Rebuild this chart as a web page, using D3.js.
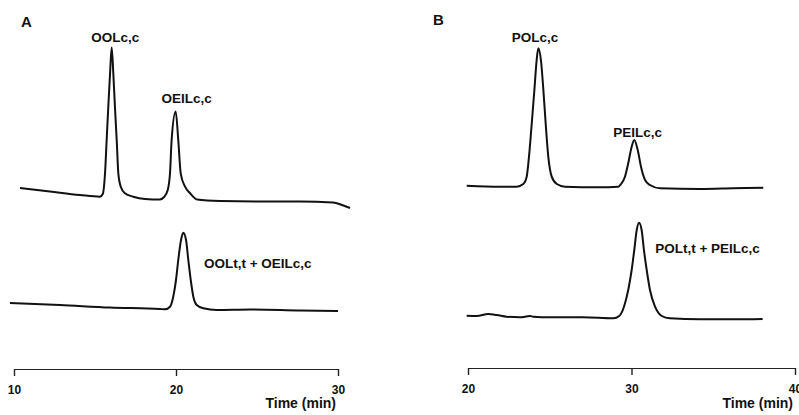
<!DOCTYPE html>
<html>
<head>
<meta charset="utf-8">
<script src="https://cdn.jsdelivr.net/npm/d3@7"></script>
<style>
  body { margin: 0; background: #fff; }
  svg { display: block; }
  text { font-family: "Liberation Sans", Arial, sans-serif; font-weight: bold; fill: #111; }
</style>
</head>
<body>
<div id="chart"></div>
<script>
// panel A: retention time (min), detector response (arb. units)
const traceA_top = [
    [10.37, 182], [12.22, 178.5], [14.07, 175], [15.31, 173.3], [15.48, 176],
    [15.62, 197], [15.72, 230], [15.82, 263.3], [15.93, 296.7], [16.03, 322.5],
    [16.13, 296.7], [16.23, 263.3], [16.34, 230], [16.44, 196.7], [16.59, 183.3],
    [16.85, 176.7], [17.36, 173.3], [18.09, 171], [19.01, 170.5], [19.26, 173],
    [19.49, 180], [19.63, 196.7], [19.73, 230], [19.98, 258.5], [20.14, 230],
    [20.29, 196.7], [20.56, 183.3], [20.86, 177], [21.3, 170.5], [22.72, 169],
    [25.19, 168.5], [27.65, 168.5], [29.69, 167.5], [30.25, 165], [30.74, 162]
];
const traceA_bottom = [
    [9.75, 67], [12.84, 65], [15.93, 62.5], [19.01, 61], [19.32, 60.7],
    [19.63, 63.3], [19.83, 73.3], [20.0, 90], [20.14, 110], [20.31, 130],
    [20.45, 137.3], [20.62, 130], [20.76, 110], [20.91, 90], [21.07, 73.3],
    [21.28, 65], [21.69, 61.7], [22.51, 60], [24.57, 60.5], [27.65, 59.5], [30.0, 59]
];
// panel B
const traceB_top = [
    [19.92, 184.3], [21.96, 183.3], [22.98, 183.3], [23.38, 186], [23.59, 193.3],
    [23.73, 213.3], [23.9, 246.7], [24.06, 280], [24.2, 310], [24.3, 321.7],
    [24.46, 310], [24.61, 280], [24.75, 246.7], [24.91, 213.3], [25.12, 193.3],
    [25.43, 186], [25.93, 183.3], [27.97, 182.7], [29.19, 183.3], [29.36, 186],
    [29.6, 193.3], [29.8, 206.7], [30.01, 223.3], [30.17, 230], [30.38, 220],
    [30.58, 203.3], [30.83, 190], [31.13, 185], [31.74, 181.7], [34.19, 181],
    [36.21, 181.7], [38.06, 182.3]
];
const traceB_bottom = [
    [19.92, 54.3], [20.53, 54], [21.24, 56], [21.76, 55], [22.37, 53.3],
    [23.18, 52.7], [23.79, 54], [23.99, 53.3], [25.02, 52.7], [27.05, 52.7],
    [28.89, 51.7], [29.25, 54], [29.54, 63.3], [29.8, 80], [30.01, 100],
    [30.17, 120], [30.32, 140], [30.46, 147.3], [30.62, 140], [30.76, 120],
    [30.93, 100], [31.13, 80], [31.44, 63.3], [31.85, 54], [32.35, 51.7],
    [34.19, 50.7], [36.23, 50.7], [38.02, 51]
];

const ticksA = [10, 20, 30];
const ticksB = [20, 30, 40];

// peak labels: text, time, response at baseline of the label
const labelsA = [
    ["OOLc,c", 16.25, 328.5],
    ["OEILc,c", 20.66, 267],
    ["OOLt,t + OEILc,c", 25.05, 102]
];
const labelsB = [
    ["POLc,c", 24.1, 328],
    ["PEILc,c", 30.37, 233.3],
    ["POLt,t + PEILc,c", 34.65, 117]
];

const width = 799;
const height = 415;

const svg = d3.select("#chart").append("svg")
    .attr("width", width)
    .attr("height", height);

const yScale = d3.scaleLinear()
    .domain([0, 340])
    .range([370, 30]);

const line = d3.line()
    .curve(d3.curveMonotoneX);

function drawPanel(opts) {
    const x = d3.scaleLinear()
        .domain(opts.domain)
        .range(opts.range);

    line.x(d => x(d[0])).y(d => yScale(d[1]));

    const g = svg.append("g");

    g.selectAll(".trace")
        .data(opts.traces).enter()
        .append("path")
        .attr("class", "trace")
        .attr("d", d => line(d))
        .attr("fill", "none")
        .attr("stroke", "#111")
        .attr("stroke-width", 2)
        .attr("stroke-linejoin", "round");

    g.selectAll(".peak-label")
        .data(opts.labels).enter()
        .append("text")
        .attr("class", "peak-label")
        .attr("x", d => x(d[1]))
        .attr("y", d => yScale(d[2]))
        .attr("text-anchor", "middle")
        .style("font-size", "13.5px")
        .text(d => d[0]);

    const axis = d3.axisBottom(x)
        .tickValues(opts.ticks)
        .tickSizeInner(7)
        .tickSizeOuter(0)
        .tickPadding(9);

    const ax = g.append("g")
        .attr("transform", `translate(0, ${opts.axisY})`)
        .call(axis);
    ax.select(".domain").attr("stroke", "#222").attr("stroke-width", 1.2);
    ax.selectAll(".tick line").attr("stroke", "#222").attr("stroke-width", 1.4);
    ax.selectAll(".tick text")
        .attr("fill", "#111")
        .style("font-size", "12px")
        .style("font-family", "'Liberation Sans', Arial, sans-serif")
        .style("font-weight", "bold");

    g.append("text")
        .attr("x", opts.range[1] - 2)
        .attr("y", 408)
        .attr("text-anchor", "end")
        .style("font-size", "14px")
        .text("Time (min)");

    g.append("text")
        .attr("x", opts.letterX)
        .attr("y", opts.letterY)
        .style("font-size", "15px")
        .text(opts.letter);
}

drawPanel({
    letter: "A", letterX: 21, letterY: 27,
    domain: [10, 30], range: [14, 338], axisY: 369,
    ticks: ticksA, traces: [traceA_top, traceA_bottom], labels: labelsA
});

drawPanel({
    letter: "B", letterX: 433, letterY: 25,
    domain: [20, 40], range: [468, 795], axisY: 368,
    ticks: ticksB, traces: [traceB_top, traceB_bottom], labels: labelsB
});
</script>
</body>
</html>
